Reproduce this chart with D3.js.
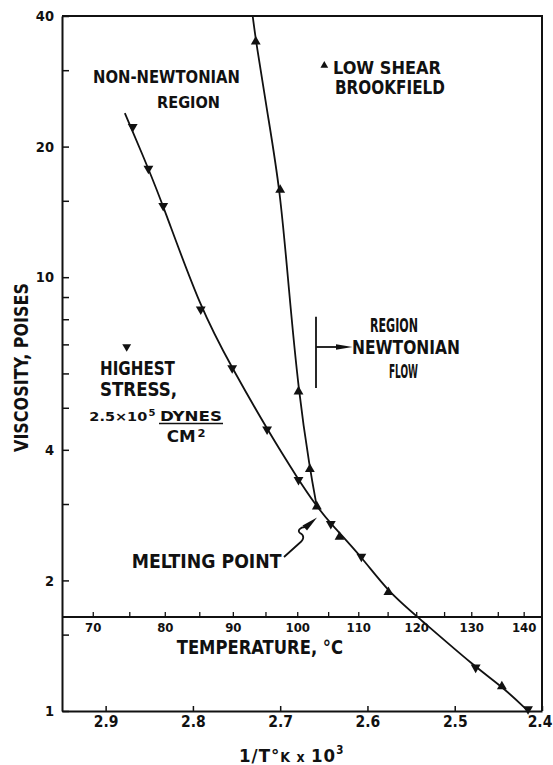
<!DOCTYPE html>
<html>
<head>
<meta charset="utf-8">
<script src="https://cdn.jsdelivr.net/npm/d3@7"></script>
<style>
  body { margin: 0; background: #fff; }
  #chartContainer { width: 553px; height: 765px; }
  svg text {
    font-family: "DejaVu Sans Condensed", "Liberation Sans Narrow", "DejaVu Sans", sans-serif;
    font-weight: bold;
    fill: #111;
  }
</style>
</head>
<body>
<div id="chartContainer"></div>
<script>
/* Viscosity vs reciprocal temperature */

// Axis ticks
const invTTicks = [2.9, 2.8, 2.7, 2.6, 2.5, 2.4];
const viscLabels = [1, 2, 4, 10, 20, 40];
const viscMinor = [1.5, 3, 5, 6, 7, 8, 9, 15, 30];
const tempLabels = [70, 80, 90, 100, 110, 120, 130, 140];
const tempMinor = [75, 85, 95, 105, 115, 125, 135];

// Highest stress, 2.5x10^5 dynes/cm2 (down triangles)
const stressInvT = [2.869, 2.851, 2.834, 2.791, 2.755, 2.715, 2.679, 2.642, 2.607, 2.476, 2.416];
const stressVisc = [22.2, 17.8, 14.6, 8.43, 6.17, 4.46, 3.41, 2.70, 2.27, 1.26, 1.01];

// Low shear Brookfield (up triangles)
const shearInvT = [2.728, 2.700, 2.679, 2.666, 2.658, 2.632, 2.576, 2.446];
const shearVisc = [34.9, 15.9, 5.45, 3.61, 2.96, 2.52, 1.88, 1.14];

// Hand drawn curves
const stressCurveInvT = [2.878, 2.878, 2.851, 2.834, 2.791, 2.755, 2.715, 2.679, 2.658, 2.642, 2.607, 2.576, 2.542, 2.476, 2.446, 2.416, 2.416];
const stressCurveVisc = [23.9, 23.9, 17.8, 14.6, 8.43, 6.17, 4.46, 3.41, 2.96, 2.70, 2.27, 1.88, 1.644, 1.26, 1.14, 1.0, 1.0];
const shearCurveInvT = [2.7315, 2.7315, 2.7277, 2.714, 2.700, 2.690, 2.679, 2.666, 2.658, 2.658];
const shearCurveVisc = [40, 40, 34.9, 23.5, 15.9, 9.34, 5.45, 3.61, 2.96, 2.96];

const width = 553;
const height = 765;
const marginTop = 16;
const marginRight = 11;
const marginBottom = 54;
const marginLeft = 62;
const tempAxisOffset = 94; // temperature scale sits above the bottom axis

const x = d3.scaleLinear([2.95, 2.4], [marginLeft, width - marginRight]);
const y = d3.scaleLog([1, 40], [height - marginBottom, marginTop]);
const tempX = t => x(1000 / (t + 273.15));

const svg = d3.create("svg")
  .attr("width", width)
  .attr("height", height)
  .attr("viewBox", [0, 0, width, height]);

// Append the SVG element now so text can be measured.
document.getElementById("chartContainer").append(svg.node());

const zip = (a, b) => a.map((d, i) => [d, b[i]]);

// Frame: top and right border
svg.append("path")
  .attr("fill", "none")
  .attr("stroke", "#111")
  .attr("stroke-width", 2)
  .attr("d", `M${x(2.95)},${y(40)}H${x(2.4)}V${y(1)}`);

// Left axis, ticks point into the plot
const allVisc = viscLabels.concat(viscMinor).sort((a, b) => a - b);
svg.append("g")
  .attr("transform", `translate(${marginLeft},0)`)
  .call(d3.axisLeft(y).tickValues(allVisc).tickSize(-7).tickPadding(8).tickSizeOuter(0)
    .tickFormat(d => viscLabels.includes(d) ? d : ""))
  .call(g => g.select(".domain").attr("stroke", "#111").attr("stroke-width", 2))
  .call(g => g.selectAll(".tick line").attr("stroke", "#111").attr("stroke-width", 1.5))
  .call(g => g.selectAll(".tick text").attr("font-size", 14.5).attr("fill", "#111"));

// Bottom axis, 1/T x 10^3
svg.append("g")
  .attr("transform", `translate(0,${height - marginBottom})`)
  .call(d3.axisBottom(x).tickValues(invTTicks).tickSize(-5).tickPadding(5).tickSizeOuter(0)
    .tickFormat(d3.format(".1f")))
  .call(g => g.select(".domain").attr("stroke", "#111").attr("stroke-width", 2))
  .call(g => g.selectAll(".tick line").attr("stroke", "#111").attr("stroke-width", 1.5))
  .call(g => g.selectAll(".tick text").attr("font-size", 15.5).attr("fill", "#111")
    .attr("dx", d => d === 2.4 ? -2.5 : 0));

// Temperature scale inside the plot
const tempY = height - marginBottom - tempAxisOffset;
const tempAxis = svg.append("g");
tempAxis.append("line")
  .attr("x1", marginLeft).attr("x2", width - marginRight)
  .attr("y1", tempY).attr("y2", tempY)
  .attr("stroke", "#111").attr("stroke-width", 1.8);
tempAxis.selectAll(".ttick")
  .data(tempLabels.concat(tempMinor))
  .join("line")
  .attr("x1", d => tempX(d)).attr("x2", d => tempX(d))
  .attr("y1", tempY).attr("y2", tempY - 5)
  .attr("stroke", "#111").attr("stroke-width", 1.3);
tempAxis.selectAll(".tlabel")
  .data(tempLabels)
  .join("text")
  .attr("x", d => tempX(d))
  .attr("y", tempY + 14.5)
  .attr("text-anchor", "middle")
  .attr("font-size", 13)
  .text(d => d);

// Curves
const line = d3.line()
  .x(d => x(d[0]))
  .y(d => y(d[1]))
  .curve(d3.curveBasis);

svg.append("path")
  .attr("fill", "none")
  .attr("stroke", "#111")
  .attr("stroke-width", 1.8)
  .attr("d", line(zip(stressCurveInvT, stressCurveVisc)));

svg.append("path")
  .attr("fill", "none")
  .attr("stroke", "#111")
  .attr("stroke-width", 1.8)
  .attr("d", line(zip(shearCurveInvT, shearCurveVisc)));

// Markers
const tri = d3.symbol(d3.symbolTriangle, 42);
svg.append("g")
  .selectAll("path")
  .data(zip(stressInvT, stressVisc))
  .join("path")
  .attr("transform", d => `translate(${x(d[0])},${y(d[1])}) rotate(180)`)
  .attr("d", tri)
  .attr("fill", "#111");

svg.append("g")
  .selectAll("path")
  .data(zip(shearInvT, shearVisc))
  .join("path")
  .attr("transform", d => `translate(${x(d[0])},${y(d[1])})`)
  .attr("d", tri)
  .attr("fill", "#111");

// Text labels, squeezed sideways to the narrow lettering of the original
function label(txt, px, py, size, len, rotate = 0, anchor = "start") {
  const t = svg.append("text")
    .attr("font-size", size)
    .attr("text-anchor", anchor)
    .text(txt);
  const w = t.node().getComputedTextLength();
  t.attr("transform", `translate(${px},${py}) rotate(${rotate}) scale(${len / w},1)`);
  return t;
}

label("NON-NEWTONIAN", 93, 83.3, 17, 147);
label("REGION", 157, 108.3, 16.5, 63);
label("LOW SHEAR", 333, 74, 18, 108);
label("BROOKFIELD", 335, 94, 19, 110);
label("REGION", 370, 331.7, 19.5, 48);
label("NEWTONIAN", 352, 354.3, 19.5, 108);
label("FLOW", 389, 378.3, 19.5, 29);
label("HIGHEST", 100, 374.5, 19.5, 75);
label("STRESS,", 100, 395.5, 19.5, 77);
label("2.5\u00d710", 89.3, 420.7, 12.5, 58);
label("5", 148.5, 416, 9.5, 7);
label("DYNES", 160, 420.7, 13.5, 62);
label("CM", 166.7, 441.7, 15, 29);
label("2", 197.5, 437, 10.5, 8);
label("MELTING POINT", 131.7, 568.3, 20, 150);
label("TEMPERATURE, \u00b0C", 176.7, 654.3, 20, 166.6);

// Axis title on the left
label("VISCOSITY, POISES", 28, 367.5, 20, 169, -90, "middle");

// DYNES / CM2 fraction bar
svg.append("line")
  .attr("x1", 159).attr("x2", 223)
  .attr("y1", 423.5).attr("y2", 423.5)
  .attr("stroke", "#111").attr("stroke-width", 1.5);

// Legend triangles
svg.append("path")
  .attr("transform", "translate(324.3,65.5)")
  .attr("d", d3.symbol(d3.symbolTriangle, 26))
  .attr("fill", "#111");
svg.append("path")
  .attr("transform", "translate(126.7,346.7) rotate(180)")
  .attr("d", d3.symbol(d3.symbolTriangle, 34))
  .attr("fill", "#111");

// Newtonian flow bracket and arrow
svg.append("line")
  .attr("x1", 316).attr("x2", 316)
  .attr("y1", 316.7).attr("y2", 388)
  .attr("stroke", "#111").attr("stroke-width", 1.8);
svg.append("line")
  .attr("x1", 316).attr("x2", 340)
  .attr("y1", 347).attr("y2", 347)
  .attr("stroke", "#111").attr("stroke-width", 1.8);
svg.append("path")
  .attr("d", "M336,344.2L352.5,347L336,349.8Z")
  .attr("fill", "#111");

// Melting point pointer
svg.append("path")
  .attr("fill", "none")
  .attr("stroke", "#111")
  .attr("stroke-width", 1.8)
  .attr("d", "M284,557L299,543.5C305,539 304,535 300,533C297,531 300,527 305,527");
svg.append("path")
  .attr("d", "M302.5,525.5L317,517.5L307,530.5Z")
  .attr("fill", "#111");

// Bottom axis title
const xTitle = svg.append("text")
  .attr("x", 239)
  .attr("y", 761.5)
  .attr("font-size", 18.5)
  .attr("letter-spacing", 1);
xTitle.append("tspan").text("1/T\u00b0");
xTitle.append("tspan").attr("font-size", 14).text("K x ");
xTitle.append("tspan").text("10");
xTitle.append("tspan").attr("font-size", 11.5).attr("dy", -7.5).text("3");
</script>
</body>
</html>
